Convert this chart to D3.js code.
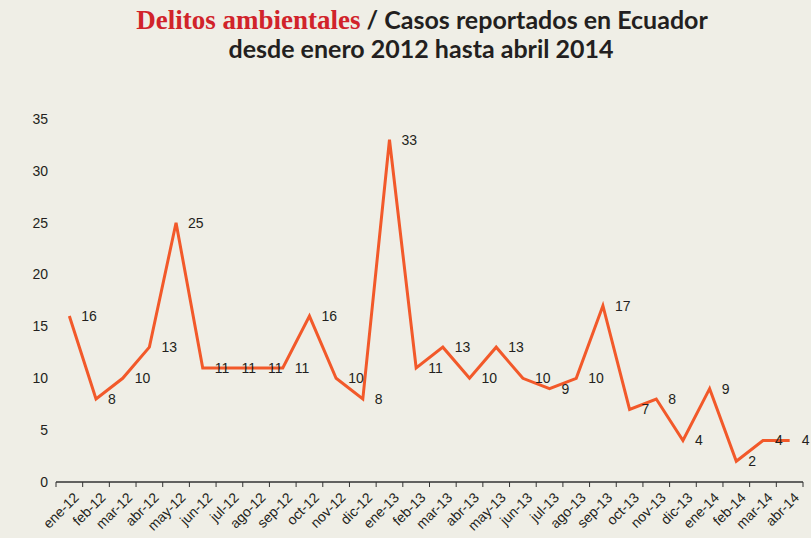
<!DOCTYPE html>
<html>
<head>
<meta charset="utf-8">
<script src="https://cdn.jsdelivr.net/npm/d3@7"></script>
<style>
  body { margin: 0; background: #efeee6; }
  #chart svg { display: block; }
</style>
</head>
<body>
<div id="chart"></div>
<script>
let w = 811, h = 538;

const months = ["ene-12","feb-12","mar-12","abr-12","may-12","jun-12","jul-12","ago-12","sep-12","oct-12","nov-12","dic-12",
  "ene-13","feb-13","mar-13","abr-13","may-13","jun-13","jul-13","ago-13","sep-13","oct-13","nov-13","dic-13",
  "ene-14","feb-14","mar-14","abr-14"];
const casos = [16,8,10,13,25,11,11,11,11,16,10,8,33,11,13,10,13,10,9,10,17,7,8,4,9,2,4,4];
const yTicks = [0,5,10,15,20,25,30,35];

let svg = d3.select("#chart").append("svg")
    .attr("width", w).attr("height", h)
    .style("background", "#efeee6");

// title
let title = svg.append("text")
    .attr("x", 422).attr("y", 29)
    .attr("text-anchor", "middle")
    .style("font-size", "25px");
title.append("tspan").text("Delitos ambientales")
    .attr("fill", "#d1232a")
    .style("font-family", "'Liberation Serif', serif")
    .style("font-weight", "bold")
    .style("font-size", "27px");
title.append("tspan").text(" / Casos reportados en Ecuador")
    .attr("fill", "#231f20")
    .style("font-family", "Lato, sans-serif")
    .style("font-weight", "bold");
svg.append("text")
    .attr("x", 421).attr("y", 58)
    .attr("text-anchor", "middle")
    .attr("fill", "#231f20")
    .style("font-family", "Lato, sans-serif")
    .style("font-weight", "bold")
    .style("font-size", "25px")
    .text("desde enero 2012 hasta abril 2014");

let x = d3.scaleBand().domain(months).range([56, 803]);
let y = d3.scaleLinear().domain([0, 35]).range([482, 119]);

// y labels (no axis line)
svg.append("g").selectAll("text")
    .data(yTicks)
    .enter().append("text")
    .attr("x", 48)
    .attr("y", d => y(d))
    .attr("dy", "0.35em")
    .attr("text-anchor", "end")
    .attr("fill", "#231f20")
    .style("font-family", "'Liberation Sans', Arial, sans-serif")
    .style("font-size", "14px")
    .text(d => d);

// x axis line and ticks at category boundaries
let xAxis = svg.append("g");
xAxis.append("line")
    .attr("x1", 56).attr("x2", 803)
    .attr("y1", 482).attr("y2", 482)
    .attr("stroke", "#333").attr("stroke-width", 1.3);
xAxis.selectAll("line.tick")
    .data(months.concat(["end"]))
    .enter().append("line")
    .attr("class", "tick")
    .attr("x1", (d, i) => i < months.length ? x(d) : x.range()[1])
    .attr("x2", (d, i) => i < months.length ? x(d) : x.range()[1])
    .attr("y1", 482).attr("y2", 487)
    .attr("stroke", "#333").attr("stroke-width", 1);
xAxis.selectAll("text")
    .data(months)
    .enter().append("text")
    .attr("transform", d => "translate(" + (x(d) + x.bandwidth() / 2 + 7) + ",495) rotate(-45)")
    .attr("text-anchor", "end")
    .attr("dy", "0.35em")
    .attr("fill", "#231f20")
    .style("font-family", "'Liberation Sans', Arial, sans-serif")
    .style("font-size", "14px")
    .text(d => d);

// line
let line = d3.line()
    .x((d, i) => x(months[i]) + x.bandwidth() / 2)
    .y(d => y(d));
svg.append("path")
    .datum(casos)
    .attr("d", line)
    .attr("fill", "none")
    .attr("stroke", "#f2592a")
    .attr("stroke-width", 3)
    .attr("stroke-linejoin", "miter");

// value labels
svg.append("g").selectAll("text")
    .data(casos)
    .enter().append("text")
    .attr("x", (d, i) => x(months[i]) + x.bandwidth() / 2 + 12)
    .attr("y", d => y(d))
    .attr("dy", "0.35em")
    .attr("fill", "#231f20")
    .style("font-family", "'Liberation Sans', Arial, sans-serif")
    .style("font-size", "14px")
    .text(d => d);
</script>
</body>
</html>
